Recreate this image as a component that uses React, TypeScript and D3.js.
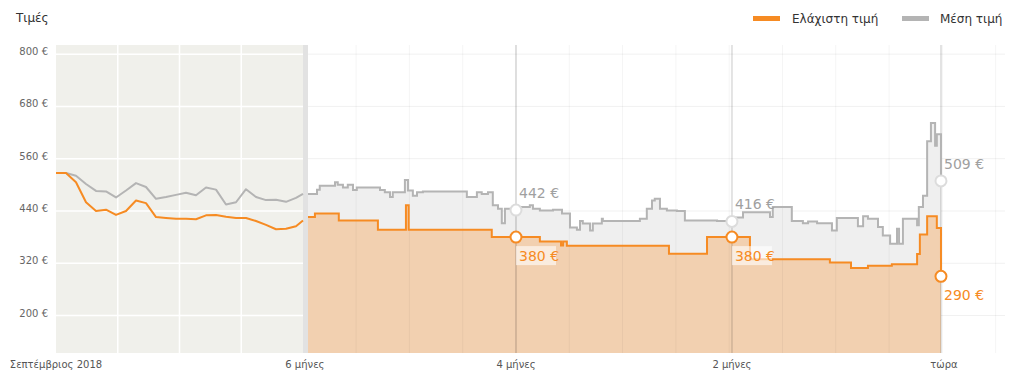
import React from 'react';
import * as d3 from 'd3';

const title = 'Τιμές';
const legendLabels = ['Ελάχιστη τιμή', 'Μέση τιμή'];
const yTicks = [200, 320, 440, 560, 680, 800];
const startLabel = 'Σεπτέμβριος 2018';
const xTickLabels = ['6 μήνες', '4 μήνες', '2 μήνες', 'τώρα'];
const xTickDays = [-183.8, -122.8, -60.4, 0];

// Compressed history (left band), one value per step
const minLeft = [527, 527, 506, 460, 440, 443, 431, 440, 464, 458, 426, 424, 422, 422, 421, 430, 431, 427, 424, 424, 417, 408, 398, 399, 405, 418];
const avgLeft = [527, 527, 521, 502, 486, 485, 471, 487, 504, 495, 468, 472, 477, 482, 476, 494, 489, 455, 460, 490, 472, 465, 466, 461, 470, 479];

// Last six months, step changes (days relative to now)
const minDays = [-182.9, -180.9, -174.0, -162.7, -154.6, -153.8, -129.8, -115.9, -109.8, -109.2, -108.1, -78.6, -67.6, -55.2, -32.1, -26.0, -21.1, -14.2, -6.9, -6.1, -4.0, -1.2, 0];
const minVals = [426, 434, 418, 397, 453, 397, 380, 370, 361, 370, 360, 342, 380, 329, 322, 309, 314, 318, 341, 386, 428, 401, 290];

const avgDays = [-182.9, -180.3, -179.5, -175.1, -174.3, -172.8, -171.4, -169.9, -168.8, -162.1, -160.7, -159.2, -158.4, -154.9, -154.0, -152.6, -151.4, -149.7, -137.0, -134.1, -132.7, -130.9, -129.5, -128.0, -126.9, -126.0, -125.4, -123.4, -121.7, -118.8, -117.9, -115.9, -112.1, -109.5, -107.2, -105.2, -104.3, -103.5, -101.4, -100.6, -98.0, -97.7, -87.0, -85.0, -83.5, -82.7, -81.2, -79.2, -76.3, -74.0, -64.7, -61.5, -59.8, -57.2, -49.4, -48.6, -43.1, -39.9, -38.4, -35.8, -31.5, -30.1, -24.0, -22.5, -21.1, -18.2, -16.8, -14.7, -12.7, -12.1, -11.0, -6.9, -6.4, -5.2, -4.0, -2.9, -1.7, -1.2, 0];
const avgVals = [479, 489, 498, 506, 500, 494, 500, 488, 494, 488, 483, 472, 483, 511, 487, 475, 483, 485, 472, 483, 479, 483, 453, 445, 412, 445, 445, 442, 449, 453, 445, 441, 443, 434, 402, 397, 417, 411, 395, 411, 422, 417, 422, 445, 464, 468, 445, 441, 440, 418, 417, 416, 425, 437, 426, 449, 417, 412, 416, 412, 395, 424, 405, 428, 422, 403, 384, 365, 399, 365, 422, 407, 449, 475, 600, 642, 590, 616, 509];

const markerDays = [-122.8, -60.4, 0];
const markerMin = [380, 380, 290];
const markerAvg = [442, 416, 509];

const ORANGE = '#f68b23';
const ORANGE_FILL = '#f2d0b0';
const GRAY = '#b4b4b4';
const GRAY_FILL = '#efefef';
const FONT = '"DejaVu Sans", Verdana, sans-serif';

export default function App() {
  const W = 1012, H = 376;
  const top = 45, bottom = 353;
  const y = d3.scaleLinear().domain([114, 821]).range([bottom, top]);
  const xL = d3.scaleLinear().domain([0, 24.7]).range([56, 303]);
  const xR = d3.scaleLinear().domain([-182.9, 18.5]).range([308, 1005]);
  const [r0, r1] = xR.range();
  const [l0, l1] = xL.range();

  const leftIdx = minLeft.map((_, i) => Math.min(i, 24.7));
  const lineL = d3.line<number>().x((_, i) => xL(leftIdx[i])).y(d => y(d));

  const minPts = minDays.map((d, i) => [d, minVals[i]] as [number, number]);
  const avgPts = avgDays.map((d, i) => [d, avgVals[i]] as [number, number]);
  const stepLine = d3.line<[number, number]>().x(d => xR(d[0])).y(d => y(d[1])).curve(d3.curveStepAfter);
  const stepArea = d3.area<[number, number]>().x(d => xR(d[0])).y0(bottom).y1(d => y(d[1])).curve(d3.curveStepAfter);

  const gridDays = d3.range(-11, 2).map(k => 0.4 + 15.4 * k);
  const leftGrid = [1, 2, 3].map(k => xL((24.7 * k) / 4));

  return (
    <svg width={W} height={H} style={{ position: 'fixed', left: 0, top: 0, background: '#fff' }} fontFamily={FONT}>
      {/* left band */}
      <rect x={l0} y={top} width={l1 - l0} height={bottom - top} fill="#f0f0eb" />
      {yTicks.map(t => (
        <line key={'lh' + t} x1={l0} x2={l1} y1={y(t)} y2={y(t)} stroke="#fff" strokeWidth={1.5} />
      ))}
      {leftGrid.map((gx, i) => (
        <line key={'lv' + i} x1={gx} x2={gx} y1={top} y2={bottom} stroke="#fff" strokeWidth={1.5} />
      ))}
      <rect x={l1} y={top} width={r0 - l1} height={bottom - top} fill="#e2e2e2" />

      {/* right horizontal grid */}
      {yTicks.map(t => (
        <line key={'rh' + t} x1={r0} x2={r1} y1={y(t)} y2={y(t)} stroke="#f1f1f1" strokeWidth={1} />
      ))}

      {/* fills */}
      <path d={stepArea(avgPts) || ''} fill={GRAY_FILL} />
      <path d={stepArea(minPts) || ''} fill={ORANGE_FILL} />

      {/* vertical grid */}
      {gridDays.map((d, i) => (
        <line key={'rv' + i} x1={xR(d)} x2={xR(d)} y1={top} y2={bottom} stroke="rgba(0,0,0,0.045)" strokeWidth={1} />
      ))}
      {markerDays.map((d, i) => (
        <line key={'mv' + i} x1={xR(d)} x2={xR(d)} y1={top} y2={bottom} stroke="rgba(0,0,0,0.11)" strokeWidth={2} />
      ))}

      {/* lines */}
      <path d={lineL(avgLeft) || ''} fill="none" stroke={GRAY} strokeWidth={2} strokeLinejoin="round" />
      <path d={lineL(minLeft) || ''} fill="none" stroke={ORANGE} strokeWidth={2} strokeLinejoin="round" />
      <path d={stepLine(avgPts) || ''} fill="none" stroke={GRAY} strokeWidth={2} />
      <path d={stepLine(minPts) || ''} fill="none" stroke={ORANGE} strokeWidth={2} />

      {/* markers */}
      {markerDays.map((d, i) => (
        <circle key={'ca' + i} cx={xR(d)} cy={y(markerAvg[i])} r={5.5} fill="#fff" stroke="#dcdcdc" strokeWidth={2} />
      ))}
      {markerDays.map((d, i) => (
        <circle key={'cm' + i} cx={xR(d)} cy={y(markerMin[i])} r={5.5} fill="#fff" stroke={ORANGE} strokeWidth={2} />
      ))}

      {/* value labels */}
      {markerDays.map((d, i) => (
        <text key={'ta' + i} x={xR(d) + 3} y={y(markerAvg[i]) - 12} fontSize={14} fill="#a0a0a0">
          {markerAvg[i]} €
        </text>
      ))}
      {markerDays.map((d, i) => {
        const onFill = d < 0;
        const tx = xR(d) + 3;
        const ty = y(markerMin[i]) + 24;
        return (
          <g key={'tm' + i}>
            {onFill && <rect x={tx - 3} y={ty - 15} width={40} height={19} fill="#fff" opacity={0.6} />}
            <text x={tx} y={ty} fontSize={14} fill={ORANGE}>
              {markerMin[i]} €
            </text>
          </g>
        );
      })}

      {/* y axis labels */}
      {yTicks.map(t => (
        <text key={'yl' + t} x={48} y={y(t) + 1} fontSize={10} fill="#666" textAnchor="end">
          {t} €
        </text>
      ))}

      {/* x axis labels */}
      <text x={l0} y={368} fontSize={10} fill="#555" textAnchor="middle">{startLabel}</text>
      {xTickDays.map((d, i) => (
        <text key={'xl' + i} x={xR(d) + (i === 3 ? 3 : 0)} y={368} fontSize={10} fill="#555" textAnchor="middle">
          {xTickLabels[i]}
        </text>
      ))}

      {/* title */}
      <text x={16} y={22} fontSize={12} fill="#333">{title}</text>

      {/* legend */}
      <rect x={753} y={16} width={27} height={5} fill={ORANGE} />
      <text x={792} y={23} fontSize={12} fill="#333">{legendLabels[0]}</text>
      <rect x={902} y={16} width={27} height={5} fill={GRAY} />
      <text x={940} y={23} fontSize={12} fill="#333">{legendLabels[1]}</text>
    </svg>
  );
}
